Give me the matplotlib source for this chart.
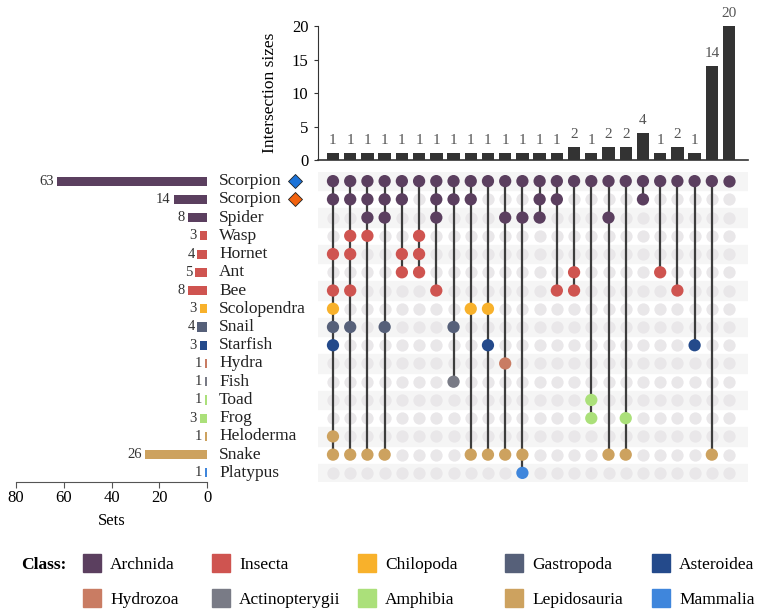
import matplotlib
matplotlib.use("Agg")
import matplotlib.pyplot as plt
import matplotlib.transforms as mtransforms
from matplotlib.patches import Rectangle

plt.rcParams['font.family'] = ['Liberation Serif', 'DejaVu Serif']

# ---------------------------------------------------------------- data
sets = ['Scorpion', 'Scorpion', 'Spider', 'Wasp', 'Hornet', 'Ant', 'Bee',
        'Scolopendra', 'Snail', 'Starfish', 'Hydra', 'Fish', 'Toad', 'Frog',
        'Heloderma', 'Snake', 'Platypus']
set_class = ['Archnida', 'Archnida', 'Archnida', 'Insecta', 'Insecta',
             'Insecta', 'Insecta', 'Chilopoda', 'Gastropoda', 'Asteroidea',
             'Hydrozoa', 'Actinopterygii', 'Amphibia', 'Amphibia',
             'Lepidosauria', 'Lepidosauria', 'Mammalia']
set_sizes = [63, 14, 8, 3, 4, 5, 8, 3, 4, 3, 1, 1, 1, 3, 1, 26, 1]

# members of each intersection (row indices into sets)
intersections = [
    [0, 1, 4, 6, 7, 8, 9, 14, 15],
    [0, 1, 3, 4, 6, 8, 15],
    [0, 1, 2, 3, 15],
    [0, 1, 2, 8, 15],
    [0, 1, 4, 5],
    [0, 3, 4, 5],
    [0, 1, 2, 6],
    [0, 1, 8, 11],
    [0, 1, 7, 15],
    [0, 7, 9, 15],
    [0, 2, 10, 15],
    [0, 2, 15, 16],
    [0, 1, 2],
    [0, 1, 6],
    [0, 5, 6],
    [0, 12, 13],
    [0, 2, 15],
    [0, 13, 15],
    [0, 1],
    [0, 5],
    [0, 6],
    [0, 9],
    [0, 15],
    [0],
]
inter_sizes = [1, 1, 1, 1, 1, 1, 1, 1, 1, 1, 1, 1, 1, 1,
               2, 1, 2, 2, 4, 1, 2, 1, 14, 20]

classes = ['Archnida', 'Insecta', 'Chilopoda', 'Gastropoda', 'Asteroidea',
           'Hydrozoa', 'Actinopterygii', 'Amphibia', 'Lepidosauria', 'Mammalia']
class_colors = ['#5b3f5f', '#cf5450', '#f8b12b', '#566079', '#244a8b',
                '#c97c63', '#797b86', '#abe07a', '#cda25f', '#3f86dc']
marker_colors = ['#1c73d8', '#f2620f']

# ---------------------------------------------------------------- layout
W, H = 764, 615
fig = plt.figure(figsize=(W / 100, H / 100), dpi=100)


def box(l, t, r, b):
    return [l / W, 1 - b / H, (r - l) / W, (b - t) / H]


cmap = dict(zip(classes, class_colors))
row_colors = [cmap[c] for c in set_class]
n_rows = len(sets)
n_cols = len(intersections)
xlim = (-0.87, n_cols - 1 + 1.1)
ylim = (n_rows - 0.5, -0.5)

# ---------------------------------------------------------------- top bars
ax_bar = fig.add_axes(box(318, 26, 748, 160))
ax_bar.bar(range(n_cols), inter_sizes, width=0.72, color='#333333')
for i, v in enumerate(inter_sizes):
    ax_bar.text(i, v + 0.9, str(v), ha='center', va='bottom',
                fontsize=11, color='#555555')
ax_bar.set_xlim(xlim)
ax_bar.set_ylim(0, 20)
ax_bar.set_yticks([0, 5, 10, 15, 20])
ax_bar.set_xticks([])
ax_bar.tick_params(axis='y', labelsize=12, length=3, color='#333333', pad=4)
ax_bar.set_ylabel('Intersection sizes', fontsize=12.5, labelpad=10)
for s in ['top', 'right']:
    ax_bar.spines[s].set_visible(False)
ax_bar.spines['left'].set_color('#333333')
ax_bar.spines['bottom'].set_color('#333333')
ax_bar.spines['bottom'].set_linewidth(1.2)

# ---------------------------------------------------------------- matrix
ax_mat = fig.add_axes(box(318, 172, 748, 482))
for r in range(0, n_rows, 2):
    ax_mat.axhspan(r - 0.5, r + 0.5, color='#f5f5f5', zorder=0)
for c, members in enumerate(intersections):
    empty = [r for r in range(n_rows) if r not in members]
    ax_mat.scatter([c] * len(empty), empty, s=78, color='#e9e7e9',
                   linewidths=0, zorder=1)
    if len(members) > 1:
        ax_mat.vlines(c, min(members), max(members), color='#3d3d3d',
                      linewidth=1.6, zorder=2)
    ax_mat.scatter([c] * len(members), members, s=78,
                   color=[row_colors[r] for r in members],
                   linewidths=0, zorder=3)
ax_mat.set_xlim(xlim)
ax_mat.set_ylim(ylim)
ax_mat.axis('off')

# ---------------------------------------------------------------- set sizes
ax_set = fig.add_axes(box(16, 172, 207, 482))
ax_set.barh(range(n_rows), set_sizes, height=0.5, color=row_colors)
for i, v in enumerate(set_sizes):
    ax_set.text(v + 1.2, i, str(v), ha='right', va='center',
                fontsize=10.5, color='#333333')
ax_set.set_xlim(80, 0)
ax_set.set_ylim(ylim)
ax_set.set_xticks([80, 60, 40, 20, 0])
ax_set.set_yticks([])
ax_set.tick_params(axis='x', labelsize=12, color='#555555', length=4, pad=2)
ax_set.set_xlabel('Sets', fontsize=12, labelpad=5)
for s in ['top', 'right', 'left']:
    ax_set.spines[s].set_visible(False)
ax_set.spines['bottom'].set_color('#555555')

# row labels
trans = mtransforms.blended_transform_factory(fig.transFigure, ax_mat.transData)
for i, name in enumerate(sets):
    fig.text(219 / W, i, name, transform=trans, ha='left', va='center',
             fontsize=12.5, color='#222222')
for i, mc in enumerate(marker_colors):
    ax_mat.plot([295 / W], [i], marker='D', markersize=7.5, color=mc,
                markeredgecolor='#222222', markeredgewidth=0.6,
                transform=trans, clip_on=False)

# ---------------------------------------------------------------- legend
fig.text(21 / W, 1 - 563 / H, 'Class:', fontsize=12.5, fontweight='bold',
         ha='left', va='center_baseline')
col_x = [92, 221, 367, 514, 661]
row_y = [563, 598]
for k, (name, color) in enumerate(zip(classes, class_colors)):
    cx = col_x[k % 5]
    cy = row_y[k // 5]
    fig.add_artist(Rectangle(((cx - 9) / W, 1 - (cy + 9) / H), 18 / W, 18 / H,
                             transform=fig.transFigure, color=color))
    fig.text((cx + 18) / W, 1 - cy / H, name, fontsize=12.5, ha='left',
             va='center_baseline')

fig.savefig('out.png', dpi=100)
